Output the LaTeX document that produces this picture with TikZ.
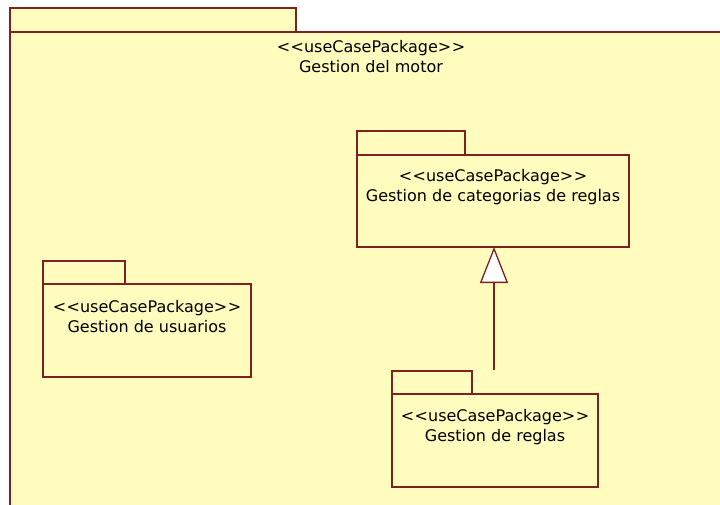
\documentclass[tikz,border=0pt]{standalone}
\usepackage{fontspec}
\setmainfont{DejaVu Sans}
\usetikzlibrary{arrows.meta}
\definecolor{pkgfill}{RGB}{255,252,190}
\definecolor{pkgline}{RGB}{128,32,32}
% stereotype text, with the guillemet ligature kept apart
\newcommand{\stereo}[1]{{<}\kern0.5pt{<}#1{>}\kern0.5pt{>}}
\begin{document}
\begin{tikzpicture}[x=1pt,y=-1pt,
  pkg/.style={rectangle, draw=pkgline, fill=pkgfill, line width=1.3pt,
    inner sep=0pt, outer sep=0pt, anchor=north west},
  outerpkg/.style={pkg, line width=1.8pt},
  pkgtext/.style={font=\fontsize{16}{20}\selectfont, align=center,
    text=black, inner sep=0pt},
  gen/.style={draw=pkgline, line width=1.3pt,
    -{Triangle[length=36pt,width=28pt,fill=white]}}]
  \useasboundingbox (0,0) rectangle (720,504);
  \clip (0,0) rectangle (720,504);
  \fill[white] (0,0) rectangle (720,504);

  % enclosing package
  \node[outerpkg, minimum width=286pt, minimum height=24pt] (motortab) at (10,8) {};
  \node[outerpkg, minimum width=740pt, minimum height=500pt] (motor) at (10,32) {};
  \node[pkgtext] (motorlbl) at (371,57) {\stereo{useCasePackage}\\Gestion del motor};

  % Gestion de categorias de reglas
  \node[pkg, minimum width=108pt, minimum height=24pt] (cattab) at (357,131) {};
  \node[pkg, minimum width=272pt, minimum height=92pt] (cat) at (357,155) {};
  \node[pkgtext] (catlbl) at (493,187) {\stereo{useCasePackage}\\Gestion de categorias de reglas};

  % Gestion de usuarios
  \node[pkg, minimum width=82pt, minimum height=23pt] (usrtab) at (43,261) {};
  \node[pkg, minimum width=208pt, minimum height=93pt] (usr) at (43,284) {};
  \node[pkgtext] (usrlbl) at (147,317) {\stereo{useCasePackage}\\Gestion de usuarios};

  % Gestion de reglas
  \node[pkg, minimum width=80pt, minimum height=23pt] (regtab) at (392,371) {};
  \node[pkg, minimum width=206pt, minimum height=93pt] (reg) at (392,394) {};
  \node[pkgtext] (reglbl) at (495,427) {\stereo{useCasePackage}\\Gestion de reglas};

  % generalization
  \coordinate (genfoot) at (494,370);
  \draw[gen] (genfoot) -- (genfoot |- cat.south);
\end{tikzpicture}
\end{document}
